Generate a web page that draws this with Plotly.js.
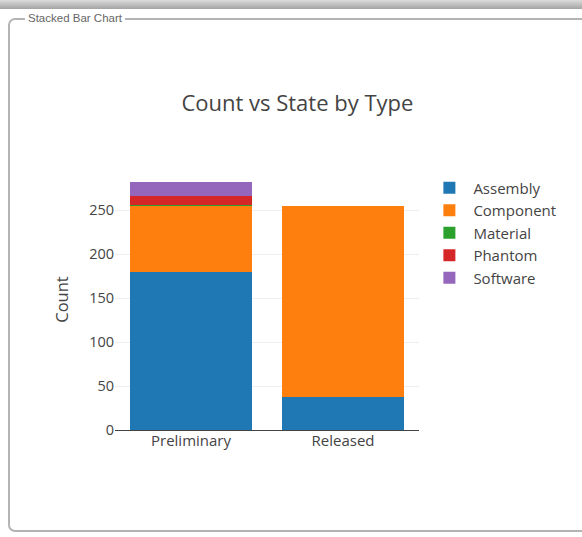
<!DOCTYPE html>
<html>
<head>
<meta charset="utf-8">
<script src="https://cdn.plot.ly/plotly-3.0.1.min.js"></script>
<style>
  html, body { margin: 0; padding: 0; background: #fff; width: 582px; height: 537px; overflow: hidden; }
  #topbar { position: absolute; left: 0; top: 0; width: 582px; height: 9px;
            background: linear-gradient(#dcdcdc, #a4a4a4); }
  #frame { position: absolute; left: 8px; top: 18px; width: 620px; height: 514px;
           border: 2px solid #b4b4b4; border-radius: 7px; box-sizing: border-box; }
  #frameLabel { position: absolute; left: 25px; top: 12px; padding: 0 3px; background: #fff;
                font: 11.5px "Liberation Sans", Arial, sans-serif; color: #666; }
  #chart { position: absolute; left: 0; top: 0; width: 582px; height: 537px; }
</style>
</head>
<body>
<div id="topbar"></div>
<div id="frame"></div>
<div id="frameLabel">Stacked Bar Chart</div>
<div id="chart"></div>
<script>
const states = ["Preliminary", "Released"];
const typeNames = ["Assembly", "Component", "Material", "Phantom", "Software"];
const assembly  = [180, 37];
const component = [75, 218];
const material  = [1, 0];
const phantom   = [10, 0];
const software  = [16, 0];
const seriesValues = [assembly, component, material, phantom, software];
const colors = ["#1f77b4", "#ff7f0e", "#2ca02c", "#d62728", "#9467bd"];

const traces = typeNames.map((name, i) => ({
  type: "bar",
  name: name,
  x: states,
  y: seriesValues[i],
  marker: { color: colors[i] }
}));

const layout = {
  width: 582,
  height: 537,
  barmode: "stack",
  paper_bgcolor: "rgba(0,0,0,0)",
  plot_bgcolor: "rgba(0,0,0,0)",
  font: { family: "'Open Sans', verdana, arial, sans-serif", size: 14, color: "#444" },
  title: { text: "Count vs State by Type", font: { size: 22, color: "#444" },
           x: 0.511, xref: "container", y: 0.808, yref: "container", yanchor: "middle" },
  margin: { l: 115, r: 163, t: 169, b: 107, pad: 0 },
  xaxis: { type: "category", tickfont: { size: 15 } },
  yaxis: { title: { text: "Count", font: { size: 16.5 }, standoff: 16 }, tickfont: { size: 14.5 },
           gridcolor: "#eee", zerolinecolor: "#444" },
  legend: { x: 1.021, xanchor: "left", y: 0.99, yanchor: "top", itemwidth: 38,
            traceorder: "normal", font: { size: 15 } },
  showlegend: true
};

Plotly.newPlot("chart", traces, layout, { displayModeBar: false, staticPlot: true });
</script>
</body>
</html>
